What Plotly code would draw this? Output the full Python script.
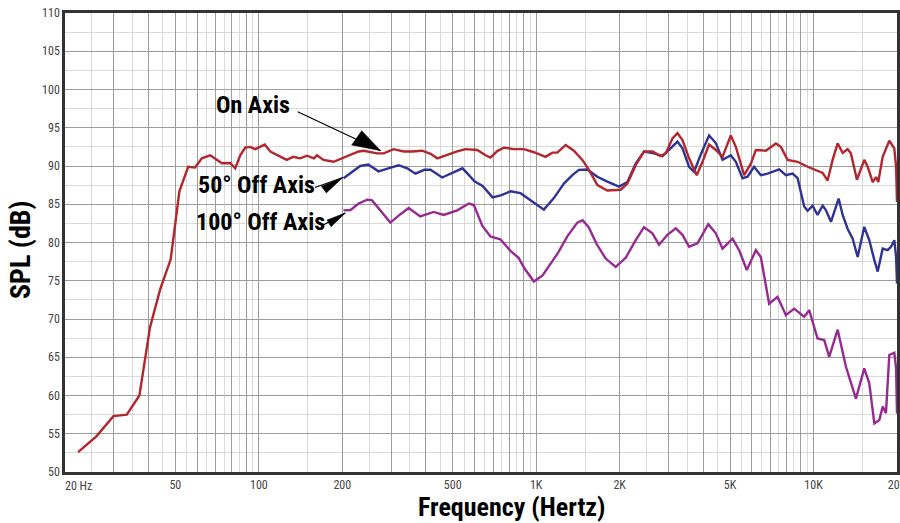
import math
import plotly.graph_objects as go

# ---------------- data ----------------
on_freq = [22.3, 26.0, 29.9, 33.4, 37.1, 40.5, 44.1, 48.1, 51.7, 55.6, 58.9, 62.3, 66.8, 69.6, 73.6,
           78.8, 82.2, 85.7, 89.3, 93.1, 97.0, 101, 105, 110, 116, 126, 133, 141, 149, 158, 162, 171,
           186, 202, 217, 229, 239, 267, 282, 306, 333, 357, 388, 416, 440, 478, 519, 556, 613, 657,
           684, 724, 764, 831, 903, 981, 1037, 1081, 1143, 1192, 1277, 1368, 1467, 1550, 1662, 1805,
           2017, 2132, 2285, 2448, 2625, 2812, 2932, 3100, 3232, 3369, 3559, 3794, 3978, 4202, 4443,
           4698, 5033, 5247, 5622, 5944, 6196, 6732, 7315, 7626, 8064, 8762, 9522, 10200, 10790,
           11240, 11720, 12220, 12740, 13270, 13640, 14340, 15240, 15680, 16350, 16800, 17120,
           17760, 18760, 19560, 19850, 20000]
on_spl = [52.6, 54.7, 57.3, 57.5, 60.0, 68.9, 73.9, 77.8, 86.7, 89.9, 89.8, 91.0, 91.4, 91.0, 90.35,
          90.4, 89.7, 91.4, 92.4, 92.5, 92.2, 92.5, 92.8, 91.9, 91.5, 90.8, 91.2, 91.0, 91.35, 91.0,
          91.4, 90.8, 90.55, 91.1, 91.5, 91.9, 92.0, 91.65, 91.65, 92.2, 91.9, 91.9, 92.0, 91.6, 91.0,
          91.5, 91.9, 92.2, 92.1, 91.4, 91.1, 91.95, 92.4, 92.2, 92.2, 91.8, 91.45, 91.2, 91.75, 91.75,
          92.75, 92.0, 90.8, 89.5, 87.5, 86.8, 86.9, 87.7, 90.1, 91.9, 91.9, 91.3, 91.65, 93.6, 94.3,
          93.4, 91.0, 88.8, 90.55, 92.8, 92.1, 91.2, 94.0, 92.5, 88.8, 90.3, 92.1, 92.0, 92.95, 92.5,
          90.8, 90.55, 89.9, 89.45, 89.1, 88.1, 90.8, 92.95, 91.7, 92.2, 91.65, 88.2, 90.8, 89.9,
          87.9, 88.55, 87.9, 91.2, 93.3, 92.3, 89.9, 85.3]

off50_freq = [202, 214, 232, 248, 270, 293, 319, 343, 367, 395, 416, 458, 495, 542, 566, 599, 641,
              696, 750, 808, 878, 970, 1066, 1158, 1259, 1350, 1426, 1529, 1662, 1805, 1989, 2132,
              2285, 2448, 2660, 2853, 3013, 3232, 3369, 3559, 3709, 3922, 4202, 4443, 4698, 5033,
              5247, 5546, 5782, 6106, 6456, 6828, 7518, 7950, 8406, 8762, 9256, 9522, 9926, 10340,
              10790, 11080, 11560, 12320, 12740, 13270, 13840, 14430, 15240, 15890, 16570, 17040,
              17760, 18510, 19020, 19560, 19850, 20000]
off50_spl = [88.4, 89.1, 90.0, 90.2, 89.3, 89.7, 90.1, 89.7, 89.0, 89.5, 89.5, 88.5, 89.1, 89.7, 89.0,
             88.0, 87.4, 85.9, 86.2, 86.7, 86.45, 85.3, 84.3, 85.8, 87.7, 88.8, 89.5, 89.55, 88.6,
             87.95, 87.3, 87.9, 90.3, 91.9, 91.65, 91.3, 92.1, 93.2, 92.3, 89.9, 89.25, 91.5, 94.0,
             93.0, 90.8, 91.4, 90.55, 88.4, 88.6, 89.9, 88.8, 89.0, 89.55, 88.8, 89.0, 88.4, 84.7,
             84.15, 84.8, 83.6, 84.8, 84.25, 82.7, 85.75, 83.6, 81.8, 80.5, 78.1, 82.05, 80.3, 77.7,
             76.2, 79.2, 79.0, 79.45, 80.3, 78.1, 74.65]

off100_freq = [202, 214, 229, 246, 256, 274, 298, 324, 347, 382, 427, 464, 519, 572, 596, 639, 684,
               744, 808, 864, 908, 981, 1054, 1192, 1295, 1407, 1470, 1546, 1652, 1781, 1935, 2102,
               2285, 2448, 2625, 2774, 2974, 3186, 3369, 3559, 3816, 4174, 4443, 4698, 5106, 5392,
               5748, 6196, 6456, 6918, 7418, 7950, 8516, 9256, 9650, 10340, 10930, 11390, 12220,
               13090, 14220, 15240, 15890, 16570, 17270, 17760, 18250, 18760, 19560, 19850, 20000]
off100_spl = [84.2, 84.25, 85.1, 85.6, 85.5, 84.2, 82.6, 83.7, 84.5, 83.4, 84.0, 83.6, 84.2, 85.1, 84.9,
              82.2, 80.8, 80.4, 78.9, 78.0, 76.6, 74.9, 75.7, 78.5, 80.8, 82.6, 82.9, 82.0, 79.8,
              77.9, 76.8, 78.0, 80.3, 82.0, 81.2, 79.7, 81.0, 81.85, 81.0, 79.45, 79.9, 82.4, 81.2,
              79.2, 80.5, 79.0, 76.4, 79.0, 78.1, 72.0, 72.9, 70.5, 71.35, 70.3, 71.15, 67.45, 67.25,
              65.05, 68.6, 63.75, 59.6, 63.55, 61.6, 56.35, 56.8, 58.55, 57.7, 65.3, 65.6, 63.55,
              57.65]

x_major = [20, 30, 40, 50, 60, 70, 80, 90, 100, 200, 300, 400, 500, 600, 700, 800, 900, 1000,
           2000, 3000, 4000, 5000, 6000, 7000, 8000, 9000, 10000, 20000]
x_labels = {50: "50", 100: "100", 200: "200", 500: "500", 1000: "1K", 2000: "2K", 5000: "5K",
            10000: "10K", 20000: "20K"}
x_minor = [25, 35, 45, 55, 65, 75, 85, 95, 150, 250, 350, 450, 550, 650, 750, 850, 950,
           1500, 2500, 3500, 4500, 5500, 6500, 7500, 8500, 9500, 15000]
y_ticks = list(range(50, 111, 5))

# ---------------- figure ----------------
RED = "#B3262E"
BLUE = "#2E3394"
PURPLE = "#962A92"
FONT = "Roboto Condensed, Roboto, sans-serif"

W, H = 900, 523
L, R, T, B = 65, 3, 13, 51
PW, PH = W - L - R, H - T - B


def px(page_x):
    return (page_x - L) / PW


def py(page_y):
    return (H - B - page_y) / PH


fig = go.Figure()
for f, s, c, n in [(off100_freq, off100_spl, PURPLE, "100° Off Axis"),
                   (off50_freq, off50_spl, BLUE, "50° Off Axis"),
                   (on_freq, on_spl, RED, "On Axis")]:
    fig.add_trace(go.Scatter(x=f, y=s, mode="lines", name=n,
                             line=dict(color=c, width=2.4), hoverinfo="skip"))

fig.update_layout(
    width=W, height=H, autosize=False,
    margin=dict(l=L, r=R, t=T, b=B),
    paper_bgcolor="white", plot_bgcolor="white",
    showlegend=False,
    font=dict(family=FONT, size=12, color="#444"),
)
fig.update_xaxes(
    type="log", range=[math.log10(20), math.log10(20000)], automargin=False,
    tickvals=x_major, ticktext=[x_labels.get(v, "") for v in x_major],
    showgrid=True, gridcolor="#9c9c9c", gridwidth=1.3,
    minor=dict(tickvals=x_minor, showgrid=True, gridcolor="#d9d9d9", gridwidth=1.3),
    showline=True, linecolor="#333", linewidth=2.5, mirror=True,
    ticks="", tickfont=dict(size=12, color="#444", family=FONT), zeroline=False,
    ticklabeloverflow="allow",
)
fig.update_yaxes(
    range=[50, 110], tickvals=y_ticks, automargin=False,
    showgrid=True, gridcolor="#9c9c9c", gridwidth=1.3,
    minor=dict(dtick=2.5, tick0=50, showgrid=True, gridcolor="#d9d9d9", gridwidth=1.3),
    showline=True, linecolor="#333", linewidth=2.5, mirror=True,
    ticks="", tickfont=dict(size=12, color="#444", family=FONT), zeroline=False,
    ticklabeloverflow="allow",
)

BOLD = dict(family=FONT, size=24, color="black")
fig.add_annotation(text="<b>Frequency (Hertz)</b>", xref="paper", yref="paper",
                   x=px(512), y=py(507), showarrow=False,
                   font=dict(family=FONT, size=26, color="black"), xanchor="center", yanchor="middle")
fig.add_annotation(text="<b>SPL (dB)</b>", xref="paper", yref="paper",
                   x=px(21), y=py(250), showarrow=False, textangle=-90,
                   font=dict(family=FONT, size=28, color="black"), xanchor="center", yanchor="middle")
fig.add_annotation(text="20 Hz", xref="paper", yref="paper", x=px(63), y=py(486),
                   showarrow=False, xanchor="left", yanchor="middle",
                   font=dict(family=FONT, size=12, color="#444"))

for txt, cx, cy in [("On Axis", 253, 105), ("50° Off Axis", 256, 185), ("100° Off Axis", 260, 222)]:
    fig.add_annotation(text="<b>" + txt + "</b>", xref="paper", yref="paper",
                       x=px(cx), y=py(cy), showarrow=False,
                       xanchor="center", yanchor="middle", font=BOLD)

# arrows: (tip freq, tip dB, tail offset, triangle corner1, corner2) in pixels relative to tip (y up)
arrows = [(275, 92.0, (-83, 39), (-19, 20), (-29, 5.7)),
          (201, 88.5, (-28, -10), (-21.6, -8.7), (-16.6, -15.4)),
          (205, 83.85, (-22, -12), (-18.3, -7), (-14.3, -13.7))]
for f, db, tail, c1, c2 in arrows:
    fig.add_shape(type="path", xref="x", yref="y", xsizemode="pixel", ysizemode="pixel",
                  xanchor=f, yanchor=db, path=f"M{tail[0]},{tail[1]} L0,0",
                  line=dict(color="black", width=1.2))
    fig.add_shape(type="path", xref="x", yref="y", xsizemode="pixel", ysizemode="pixel",
                  xanchor=f, yanchor=db,
                  path=f"M0,0 L{c1[0]},{c1[1]} L{c2[0]},{c2[1]} Z",
                  fillcolor="black", line=dict(color="black", width=0.5))

fig.write_html(
    "out.html",
    post_script="document.body.style.margin='0';document.body.style.overflow='hidden';",
    config={"displayModeBar": False},
)
